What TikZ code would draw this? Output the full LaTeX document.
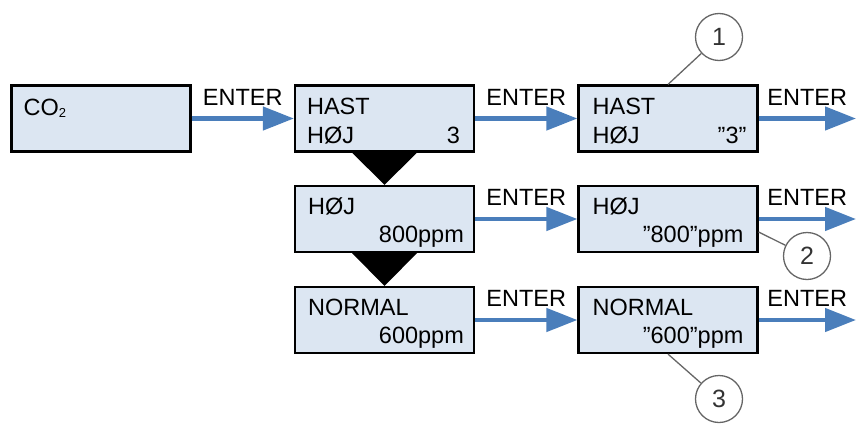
\documentclass[tikz,border=0pt]{standalone}
\usepackage{fontspec}
\setmainfont{Liberation Sans}
\usetikzlibrary{arrows.meta,calc}
\definecolor{boxfill}{HTML}{DCE6F2}
\definecolor{arrowblue}{HTML}{4A7EBB}
\definecolor{calloutgray}{HTML}{666666}
\tikzset{
  box/.style={draw=black, fill=boxfill, line width=2.2pt, minimum width=179pt, minimum height=66pt, inner sep=0pt},
  lt/.style={anchor=base west, inner sep=0pt, font=\fontsize{23.5}{28}\selectfont},
  rt/.style={anchor=base east, inner sep=0pt, font=\fontsize{23.5}{28}\selectfont},
  flow/.style={draw=arrowblue, line width=4.5pt, -{Triangle[length=31pt,width=23pt]}},
  entertext/.style={anchor=base, inner sep=0pt, font=\fontsize{23.5}{28}\selectfont},
  callout/.style={draw=calloutgray, line width=1.3pt, circle, minimum size=47pt, inner sep=0pt, text=black!80, font=\fontsize{25}{30}\selectfont},
  calloutline/.style={draw=calloutgray, line width=1.3pt},
}
\begin{document}
\begin{tikzpicture}[x=1pt,y=-1pt]
\useasboundingbox (0,0) rectangle (856,423);
% boxes
\node[box] (co2)   at (101,118.5) {};
\node[box] (hast)  at (384.5,118.5) {};
\node[box] (hastq) at (668,118.5) {};
\node[box] (hoj)   at (384.5,219) {};
\node[box] (hojq)  at (668,219) {};
\node[box] (norm)  at (384.5,320) {};
\node[box] (normq) at (668,320) {};
% texts
\node[lt] (t1) at ($(co2.north west)+(13,31)$) {CO\raisebox{-2pt}{\fontsize{13}{13}\selectfont 2}};
\node[lt] (t2) at ($(hast.north west)+(13,30)$) {HAST};
\node[lt] (t3) at ($(hast.north west)+(13,59)$) {HØJ};
\node[rt] (t4) at ($(hast.north east)+(-15,59)$) {3};
\node[lt] (t5) at ($(hastq.north west)+(15,30)$) {HAST};
\node[lt] (t6) at ($(hastq.north west)+(15,59)$) {HØJ};
\node[rt] (t7) at ($(hastq.north east)+(-12,59)$) {”3”};
\node[lt] (t8) at ($(hoj.north west)+(14,30)$) {HØJ};
\node[rt] (t9) at ($(hoj.north east)+(-11,58)$) {800ppm};
\node[lt] (t10) at ($(hojq.north west)+(15,30)$) {HØJ};
\node[rt] (t11) at ($(hojq.north east)+(-15,58)$) {”800”ppm};
\node[lt] (t12) at ($(norm.north west)+(14,30)$) {NORMAL};
\node[rt] (t13) at ($(norm.north east)+(-11,58)$) {600ppm};
\node[lt] (t14) at ($(normq.north west)+(15,30)$) {NORMAL};
\node[rt] (t15) at ($(normq.north east)+(-15,58)$) {”600”ppm};
% funnels
\fill ($(hast.south)+(-32.5,0)$) -- ($(hast.south)+(32.5,0)$) -- (hoj.north) -- cycle;
\fill ($(hoj.south)+(-32.5,0)$) -- ($(hoj.south)+(32.5,0)$) -- (norm.north) -- cycle;
% arrow end points
\coordinate (e1) at (856,118.5);
\coordinate (e2) at (856,219);
\coordinate (e3) at (856,320);
% arrows
\draw[flow] (co2.east) -- node[entertext, yshift=13.5pt] (l1) {ENTER} (hast.west);
\draw[flow] (hast.east) -- node[entertext, yshift=13.5pt] (l2) {ENTER} (hastq.west);
\draw[flow] (hastq.east) -- node[entertext, yshift=13.5pt] (l3) {ENTER} (e1);
\draw[flow] (hoj.east) -- node[entertext, yshift=13.5pt] (l4) {ENTER} (hojq.west);
\draw[flow] (hojq.east) -- node[entertext, yshift=13.5pt] (l5) {ENTER} (e2);
\draw[flow] (norm.east) -- node[entertext, yshift=13.5pt] (l6) {ENTER} (normq.west);
\draw[flow] (normq.east) -- node[entertext, yshift=13.5pt] (l7) {ENTER} (e3);
% callouts
\node[callout] (c1) at (719,37) {1};
\node[callout] (c2) at (807,256) {2};
\node[callout] (c3) at (719,399) {3};
\coordinate (p2) at ($(hojq.east)+(0,13)$);
\draw[calloutline] (hastq.north) -- (c1);
\draw[calloutline] (p2) -- (c2);
\draw[calloutline] (normq.south) -- (c3);
\end{tikzpicture}
\end{document}
